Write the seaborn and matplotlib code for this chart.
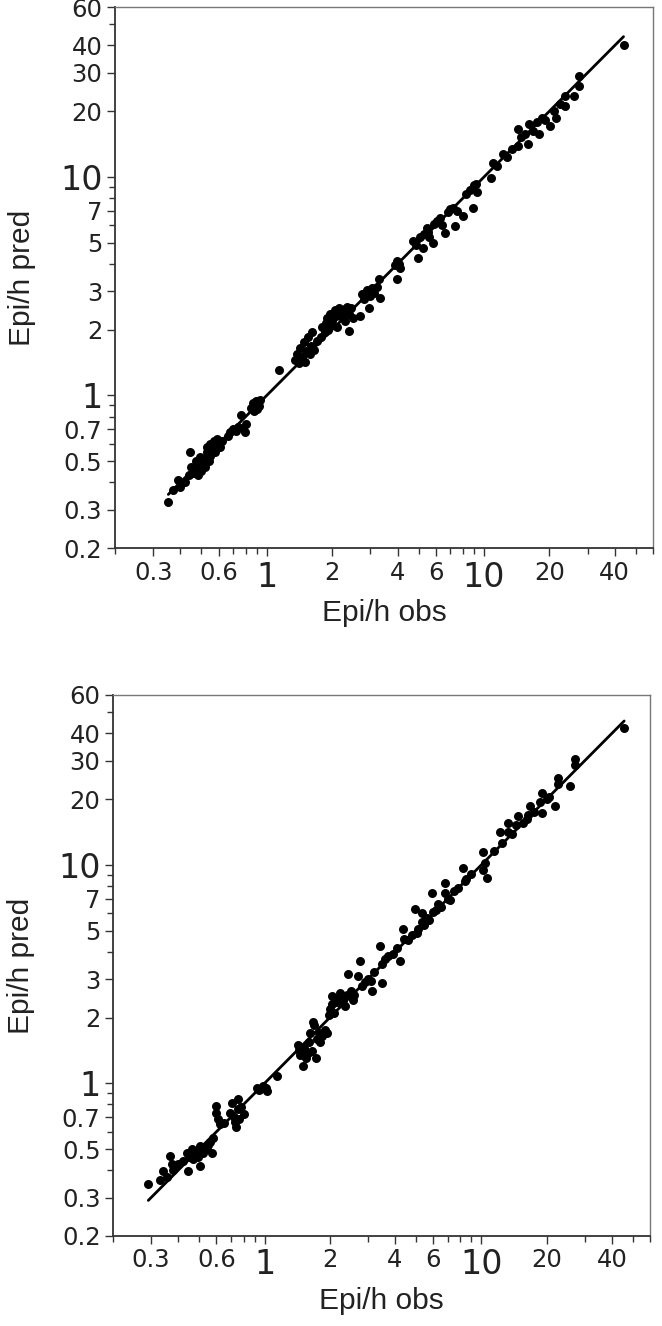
import numpy as np
import pandas as pd
import matplotlib
matplotlib.use('Agg')
import matplotlib.pyplot as plt
import seaborn as sns
from matplotlib.ticker import NullFormatter

top_points = [
    (0.352, 0.324), (0.37, 0.37), (0.39, 0.41), (0.40, 0.38), (0.42, 0.40),
    (0.44, 0.43), (0.445, 0.553), (0.45, 0.47), (0.46, 0.44), (0.47, 0.50),
    (0.48, 0.46), (0.49, 0.52), (0.50, 0.48), (0.50, 0.45), (0.51, 0.51),
    (0.52, 0.47), (0.53, 0.55), (0.54, 0.50), (0.55, 0.60), (0.55, 0.53),
    (0.56, 0.57), (0.57, 0.62), (0.58, 0.55), (0.60, 0.60), (0.62, 0.62),
    (0.48, 0.43), (0.53, 0.58), (0.59, 0.63), (0.61, 0.58),
    (0.66, 0.65), (0.68, 0.68), (0.70, 0.70), (0.72, 0.69), (0.74, 0.72),
    (0.76, 0.815), (0.78, 0.71), (0.79, 0.68), (0.80, 0.74), (0.85, 0.88),
    (0.86, 0.92), (0.87, 0.85), (0.88, 0.90), (0.89, 0.94), (0.90, 0.87),
    (0.91, 0.92), (0.92, 0.89), (0.93, 0.95), (1.14, 1.31), (1.35, 1.45),
    (1.38, 1.55), (1.40, 1.40), (1.42, 1.65), (1.45, 1.50), (1.48, 1.75),
    (1.50, 1.42), (1.52, 1.60), (1.55, 1.85), (1.58, 1.55), (1.60, 1.68),
    (1.62, 1.95), (1.65, 1.62), (1.70, 1.78), (1.78, 1.85), (1.80, 2.05),
    (1.85, 1.95), (1.88, 2.15), (1.90, 2.25), (1.92, 2.00), (1.95, 2.35),
    (1.98, 2.10), (2.00, 2.20), (2.05, 2.45), (2.08, 2.30), (2.10, 2.05),
    (2.15, 2.50), (2.20, 2.30), (2.25, 2.40), (2.30, 2.20), (2.35, 2.55),
    (2.39, 1.97), (2.40, 2.35), (2.45, 2.50), (2.50, 2.25), (2.70, 2.30),
    (2.12, 2.38), (2.28, 2.48), (2.02, 2.32),
    (2.75, 2.90), (2.80, 2.75), (2.85, 2.95), (2.90, 3.05), (2.94, 2.52),
    (3.00, 2.85), (3.05, 3.10), (3.10, 2.95), (3.20, 3.15), (3.31, 2.80),
    (3.27, 3.40), (3.90, 3.95), (3.97, 4.12), (3.97, 3.40), (4.05, 4.00),
    (4.10, 3.85), (4.73, 5.09), (4.85, 4.90), (4.99, 4.27), (5.10, 5.30),
    (5.26, 4.74), (5.30, 5.50), (5.45, 5.86), (5.50, 5.60), (5.60, 5.30),
    (5.85, 4.99), (5.90, 6.10), (6.10, 6.30), (6.28, 6.50), (6.40, 6.00),
    (6.63, 5.55), (6.80, 6.90), (7.00, 7.10), (7.23, 7.23), (7.37, 5.96),
    (7.50, 7.00), (8.03, 6.62), (8.30, 8.40), (8.60, 8.70), (8.90, 7.23),
    (8.90, 8.93), (9.00, 9.20), (9.20, 9.30), (9.30, 8.50), (10.8, 9.9),
    (11.0, 11.6), (11.5, 11.2), (12.2, 12.7), (12.8, 12.3), (13.5, 13.4),
    (14.3, 16.5), (14.3, 13.9), (14.8, 15.2), (15.5, 15.8), (15.9, 14.1),
    (16.2, 17.4), (16.8, 16.2), (17.5, 17.8), (18.0, 15.7), (18.4, 18.7),
    (19.0, 18.2), (20.1, 17.1), (21.1, 20.1), (21.5, 18.7), (22.5, 21.5),
    (23.5, 23.5), (23.5, 21.2), (26.1, 23.5), (27.4, 26.1), (27.4, 29.1),
    (43.9, 40.2),
]

bottom_points = [
    (0.291, 0.345), (0.33, 0.36), (0.341, 0.397), (0.354, 0.372), (0.367, 0.465),
    (0.373, 0.425), (0.38, 0.40), (0.40, 0.425), (0.42, 0.44), (0.438, 0.482),
    (0.445, 0.397), (0.45, 0.46), (0.461, 0.50), (0.47, 0.45), (0.48, 0.49),
    (0.495, 0.46), (0.504, 0.514), (0.504, 0.42), (0.52, 0.48), (0.541, 0.50),
    (0.55, 0.52), (0.561, 0.536), (0.57, 0.48), (0.58, 0.56), (0.60, 0.788),
    (0.60, 0.73), (0.613, 0.686), (0.625, 0.65), (0.65, 0.66), (0.694, 0.734),
    (0.706, 0.816), (0.72, 0.70), (0.731, 0.662), (0.74, 0.63), (0.757, 0.846),
    (0.757, 0.76), (0.76, 0.69), (0.78, 0.78), (0.80, 0.72), (0.92, 0.955),
    (0.94, 0.93), (0.95, 0.94), (0.98, 0.97), (1.02, 0.955), (1.03, 0.92),
    (1.14, 1.08), (1.42, 1.50), (1.44, 1.42), (1.45, 1.35), (1.48, 1.45),
    (1.50, 1.20), (1.52, 1.45), (1.55, 1.30), (1.58, 1.38), (1.60, 1.55),
    (1.62, 1.70), (1.65, 1.40), (1.68, 1.90), (1.70, 1.85), (1.72, 1.30),
    (1.75, 1.60), (1.78, 1.70), (1.80, 1.55), (1.85, 1.65), (1.90, 1.75),
    (1.95, 1.70), (1.98, 2.05), (2.00, 2.20), (2.04, 2.51), (2.04, 2.30),
    (2.10, 2.10), (2.15, 2.35), (2.23, 2.60), (2.30, 2.40), (2.35, 2.25),
    (2.20, 2.45), (2.40, 2.55), (2.55, 2.40),
    (2.43, 3.16), (2.50, 2.65), (2.60, 2.55), (2.71, 3.11), (2.76, 3.63),
    (2.81, 2.79), (2.90, 2.90), (3.00, 3.00), (3.10, 2.95), (3.12, 2.65),
    (3.20, 3.25), (3.41, 4.26), (3.47, 2.89), (3.50, 3.50), (3.60, 3.70),
    (3.72, 3.83), (3.90, 3.90), (4.10, 4.15), (4.21, 3.63), (4.37, 5.08),
    (4.40, 4.60), (4.60, 4.55), (4.80, 4.80), (5.03, 4.90), (4.95, 6.27),
    (5.10, 5.10), (5.30, 6.00), (5.30, 5.50), (5.45, 5.30), (5.60, 5.70),
    (5.75, 5.60), (5.90, 7.47), (6.00, 6.10), (6.20, 6.20), (6.30, 6.60),
    (6.50, 6.40), (6.80, 8.30), (6.80, 7.40), (7.00, 7.00), (7.20, 6.90),
    (7.50, 7.60), (7.80, 7.80), (8.25, 9.70), (8.40, 8.40), (8.50, 8.60),
    (9.00, 9.10), (10.2, 11.4), (10.2, 9.50), (10.4, 10.2), (10.6, 8.75),
    (11.4, 11.6), (12.2, 14.1), (12.5, 12.6), (13.3, 15.6), (13.3, 14.2),
    (13.8, 13.8), (14.5, 15.3), (14.8, 16.8), (15.5, 15.5), (16.2, 16.2),
    (16.5, 16.9), (16.7, 18.6), (17.5, 17.5), (18.7, 19.5), (19.0, 21.4),
    (19.0, 17.3), (20.0, 20.0), (20.6, 20.5), (21.8, 18.6), (22.6, 25.1),
    (22.6, 23.4), (25.6, 23.0), (27.1, 30.5), (27.1, 28.6), (45.6, 42.2),
]

x_major = [0.3, 0.6, 1, 2, 4, 6, 10, 20, 40]
x_labels = ['0.3', '0.6', '1', '2', '4', '6', '10', '20', '40']
x_minor = [0.2, 0.4, 0.5, 0.7, 0.8, 0.9, 3, 5, 7, 8, 9, 30, 50, 60]
y_major = [0.2, 0.3, 0.5, 0.7, 1, 2, 3, 5, 7, 10, 20, 30, 40, 60]
y_labels = ['0.2', '0.3', '0.5', '0.7', '1', '2', '3', '5', '7', '10', '20', '30', '40', '60']
y_minor = [0.4, 0.6, 0.8, 0.9, 4, 6, 8, 9, 50]
big_labels = ['1', '10']

sns.set_style('white')
plt.rcParams['font.family'] = ['DejaVu Sans']

fig = plt.figure(figsize=(6.62, 13.26), dpi=100)
ax_top = fig.add_axes([0.1737, 0.5867, 0.8127, 0.408])
ax_bot = fig.add_axes([0.1707, 0.0679, 0.8112, 0.408])


def draw_panel(ax, points):
    df = pd.DataFrame(points, columns=['obs', 'pred'])
    lo, hi = df['obs'].min(), df['obs'].max()
    ident = pd.DataFrame({'x': [lo, hi], 'y': [lo, hi]})
    sns.scatterplot(data=df, x='obs', y='pred', ax=ax, color='black',
                    s=42, edgecolor='black', linewidth=0, zorder=3)
    sns.lineplot(data=ident, x='x', y='y', ax=ax, color='black',
                 linewidth=2.0, zorder=4)
    ax.set_xscale('log')
    ax.set_yscale('log')
    ax.set_xlim(0.2, 60)
    ax.set_ylim(0.2, 60)

    ax.set_xticks(x_major, x_labels)
    ax.set_xticks(x_minor, minor=True)
    ax.set_yticks(y_major, y_labels)
    ax.set_yticks(y_minor, minor=True)
    ax.xaxis.set_minor_formatter(NullFormatter())
    ax.yaxis.set_minor_formatter(NullFormatter())
    ax.tick_params(which='major', direction='out', length=6, width=1,
                   color='#333333', labelsize=17.5, pad=3,
                   bottom=True, left=True, labelcolor='#222222')
    ax.tick_params(which='minor', direction='out', length=4, width=1,
                   color='#333333', bottom=True, left=True)
    for lab in ax.get_xticklabels() + ax.get_yticklabels():
        if lab.get_text() in big_labels:
            lab.set_fontsize(24)

    for side in ['left', 'bottom']:
        ax.spines[side].set_color('#333333')
        ax.spines[side].set_linewidth(1.3)
    for side in ['top', 'right']:
        ax.spines[side].set_color('#777777')
        ax.spines[side].set_linewidth(1.0)

    ax.set_xlabel('Epi/h obs', fontsize=21.5, family='Liberation Sans', color='#222222')
    ax.set_ylabel('Epi/h pred', fontsize=21.5, family='Liberation Sans', color='#222222')
    ax.xaxis.set_label_coords(0.5, -0.094)
    ax.yaxis.set_label_coords(-0.146, 0.5)


draw_panel(ax_top, top_points)
draw_panel(ax_bot, bottom_points)

fig.savefig('out.png', dpi=100)
plt.close(fig)
